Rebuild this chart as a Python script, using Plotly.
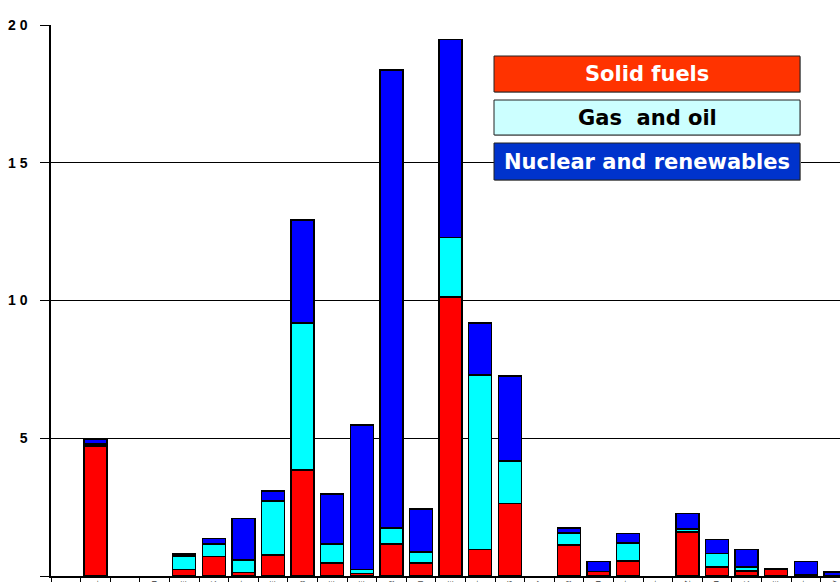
import plotly.graph_objects as go

# Category labels (country codes; mostly clipped at the bottom edge)
labels = ["", "PL", "", "LU", "IE", "DK", "AT", "NE", "GB", "BE", "SE", "FR", "FI",
          "DE", "IT", "ES", "CY", "GR", "HU", "PT", "MT", "CZ", "LU", "SK", "EE", "LT", "LV"]

solid_fuels = [0, 4.72, 0, 0, 0.24, 0.71, 0.13, 0.76, 3.85, 0.47, 0.10, 1.16, 0.48,
               10.13, 0.97, 2.64, 0, 1.13, 0.16, 0.54, 0, 1.59, 0.33, 0.19, 0.26, 0.02, 0.0]
gas_and_oil = [0, 0.07, 0, 0, 0.49, 0.46, 0.45, 1.97, 5.33, 0.69, 0.14, 0.58, 0.40,
               2.15, 6.33, 1.53, 0, 0.43, 0.0, 0.65, 0, 0.11, 0.48, 0.13, 0.0, 0.04, 0.02]
nuclear_renew = [0, 0.16, 0, 0, 0.07, 0.20, 1.50, 0.36, 3.74, 1.82, 5.24, 16.63, 1.55,
                 7.20, 1.89, 3.09, 0, 0.19, 0.36, 0.35, 0, 0.56, 0.51, 0.65, 0.02, 0.47, 0.13]

y_ticks = [0, 5, 10, 15, 20]
y_ticktext = ["<b>0</b>", "<b>5</b>", "<b>1 0</b>", "<b>1 5</b>", "<b>2 0</b>"]

legend_items = ["Solid fuels", "Gas  and oil", "Nuclear and renewables"]

x = list(range(len(labels)))
line = dict(color="black", width=1.5)


def nz(vals):
    # zero-height segments are not drawn (no outline on the baseline)
    return [v if v else None for v in vals]


fig = go.Figure()
fig.add_trace(go.Bar(x=x, y=nz(solid_fuels), name=legend_items[0],
                     marker=dict(color="#FF0000", line=line), width=0.78))
fig.add_trace(go.Bar(x=x, y=nz(gas_and_oil), name=legend_items[1],
                     marker=dict(color="#00FFFF", line=line), width=0.78))
fig.add_trace(go.Bar(x=x, y=nz(nuclear_renew), name=legend_items[2],
                     marker=dict(color="#0000FF", line=line), width=0.78))

FW, FH = 840, 582
L, T, B = 51, 25, 576
R = FW
W = R - L
H = B - T


def px_x(p):                 # pixel -> paper
    return (p - L) / W


def px_y(p):
    return (B - p) / H


boxes = [
    (56, 92, "#FF3300", "white"),
    (100, 135, "#CCFFFF", "black"),
    (143, 180, "#0033CC", "white"),
]
shapes = []
annotations = []
for (y0, y1, fill, tc), txt in zip(boxes, legend_items):
    shapes.append(dict(type="rect", xref="paper", yref="paper",
                       x0=px_x(495), x1=px_x(801), y0=px_y(y1 + 1), y1=px_y(y0 + 1),
                       fillcolor="#BBBBBB", line=dict(width=0), layer="above"))
    shapes.append(dict(type="rect", xref="paper", yref="paper",
                       x0=px_x(494), x1=px_x(800), y0=px_y(y1), y1=px_y(y0),
                       fillcolor=fill, line=dict(color="#222222", width=1), layer="above"))
    annotations.append(dict(xref="paper", yref="paper", x=px_x(647), y=px_y((y0 + y1) / 2),
                            text="<b>%s</b>" % txt, showarrow=False,
                            font=dict(family="DejaVu Sans", size=21, color=tc),
                            xanchor="center", yanchor="middle"))

x_right = (R - L) / 29.6 - 0.5

fig.update_layout(
    width=FW, height=FH,
    margin=dict(l=L, r=FW - R, t=T, b=FH - B),
    paper_bgcolor="white", plot_bgcolor="white",
    barmode="stack", showlegend=False,
    shapes=shapes, annotations=annotations,
    xaxis=dict(range=[-0.5, x_right], tickvals=x, ticktext=labels, tickangle=-90,
               tickfont=dict(family="Liberation Sans", size=7, color="#333333"),
               ticks="", showgrid=False, zeroline=False,
               showline=True, linecolor="black", linewidth=1.5,
               minor=dict(tickmode="linear", tick0=0.5, dtick=1, ticks="outside",
                          ticklen=4, tickcolor="black", tickwidth=1),
               automargin=False),
    yaxis=dict(range=[0, 20], tickvals=y_ticks, ticktext=y_ticktext,
               tickfont=dict(family="Liberation Sans", size=14, color="black"),
               ticks="outside", ticklen=9, tickcolor="black", tickwidth=1.3,
               ticklabelstandoff=10,
               showgrid=True, gridcolor="black", gridwidth=1.3, zeroline=False,
               showline=True, linecolor="black", linewidth=1.5, automargin=False),
)

fig.write_html("out.html",
               config={"displayModeBar": False},
               post_script="document.body.style.margin='0';"
                           "document.body.style.overflow='hidden';")
